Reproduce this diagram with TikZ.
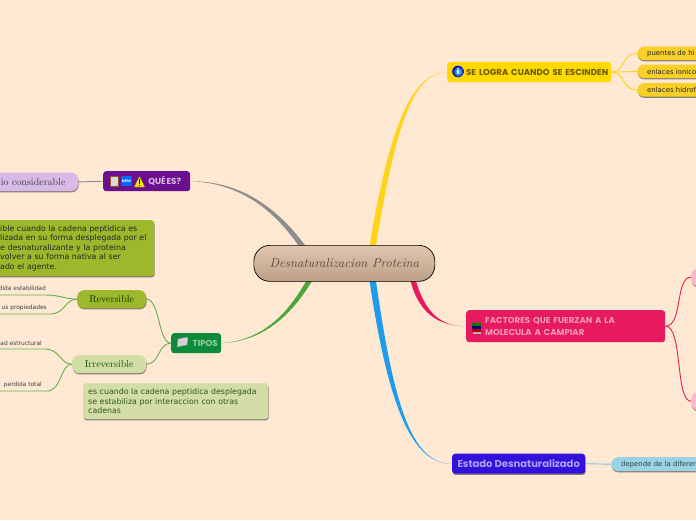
\documentclass[tikz,border=0pt]{standalone}
\usepackage{fontspec}
\usetikzlibrary{shadows}
\newfontfamily\vd{DejaVu Sans}
\newfontfamily\disp{Poppins}[Scale=1.0]
\definecolor{bgc}{HTML}{FEE8D1}
\definecolor{bgl}{HTML}{FFEEDB}
\definecolor{cgray}{HTML}{8E8E8E}
\definecolor{cyel}{HTML}{FFD319}
\definecolor{cpink}{HTML}{E81A5E}
\definecolor{cblue}{HTML}{1E9BEB}
\definecolor{cgreen}{HTML}{4CA63C}
\definecolor{lgreen}{HTML}{63B04E}
\definecolor{purp}{HTML}{6A0F8E}
\definecolor{purl}{HTML}{D9B9E8}
\definecolor{olive}{HTML}{9DB82B}
\definecolor{pale}{HTML}{D3DDA6}
\definecolor{dgreen}{HTML}{0E8B3A}
\definecolor{gold}{HTML}{FFD900}
\definecolor{gold2}{HTML}{F9CF28}
\definecolor{rose}{HTML}{E71A5F}
\definecolor{rosel}{HTML}{FDB9D0}
\definecolor{indi}{HTML}{3311DD}
\definecolor{skyb}{HTML}{9AD4E4}
\definecolor{ttop}{HTML}{E0C7B0}
\definecolor{tbot}{HTML}{BE9F87}
\definecolor{ttxt}{HTML}{54463A}
\definecolor{oltx}{HTML}{6B5A00}
\definecolor{cadt}{HTML}{2F5A22}
\tikzset{
  x=1pt,y=-1pt,
  shad/.style={drop shadow={shadow xshift=0.4pt,shadow yshift=-1.2pt,opacity=.45,fill=black}},
  box/.style={inner sep=0pt,rounded corners=3pt,anchor=north west},
  main/.style={box,font=\disp\bfseries\fontsize{8.6}{12}\selectfont,align=left},
  pill/.style={box,rounded corners=7pt,shad},
  txtpill/.style={pill,font=\vd\fontsize{6.9}{9}\selectfont,align=left},
  small/.style={inner sep=0pt,anchor=east,font=\vd\fontsize{5.9}{7}\selectfont,text=black!75},
  para/.style={box,shad,font=\vd\fontsize{7.85}{9.5}\selectfont,align=left},
  thin/.style={line width=.9pt},
}
\begin{document}
\begin{tikzpicture}
\useasboundingbox (0,0) rectangle (696,520);
\clip (0,0) rectangle (696,520);
\fill[bgc] (0,0) rectangle (696,520);
\foreach \k in {0,...,51} {\draw[bgl,line width=.8pt] (0,9.5+10*\k) -- (696,9.5+10*\k);}
% nodes
\node[main,fill=purp,text=purl,minimum width=87,minimum height=20,align=center] (que) at (103,171) {\hspace{36pt}QUÉ\hspace{-1pt} ES?};
\node[pill,fill=purl,minimum width=98,minimum height=18.5,font=\fontsize{10}{12}\selectfont,text=black!75] (cons) at (-20,172.5) {\hspace{8pt}io considerable};
\node[para,fill=olive,minimum width=174,minimum height=56,text=black!85,text width=174] (verde) at (-20,220) {\hspace*{20pt}ible cuando la cadena peptidica es\\\hspace*{20pt}lizada en su forma desplegada por el\\\hspace*{20pt}e desnaturalizante y la proteina\\\hspace*{20pt}volver a su forma nativa al ser\\\hspace*{20pt}ado el agente.};
\node[pill,fill=olive,minimum width=69,minimum height=18,font=\fontsize{10}{12}\selectfont,text=black!80!green] (rev) at (77,290) {Reversible};
\node[pill,fill=pale,minimum width=74,minimum height=18,font=\fontsize{10}{12}\selectfont,text=black!65!green] (irr) at (72,355) {Irreversible};
\node[main,fill=dgreen,text=white!55!dgreen,minimum width=50,minimum height=20,align=center] (tipos) at (171,333) {\hspace{18pt}TIPOS};
\node[para,fill=pale,minimum width=185,minimum height=36,text=cadt,text width=185] (cad) at (83,383) {\hspace*{5pt}es cuando la cadena peptidica desplegada\\\hspace*{5pt}se estabiliza por interaccion con otras\\\hspace*{5pt}cadenas};
\node[main,fill=gold,text=oltx,minimum width=164,minimum height=20,text width=164] (logro) at (447,62) {\hspace*{19pt}SE LOGRA CUANDO SE ESCINDEN};
\node[txtpill,fill=gold2,minimum width=90,minimum height=13.5,text=black!85,text width=90] (p1) at (637,46.5) {\hspace*{10pt}puentes de hi};
\node[txtpill,fill=gold2,minimum width=90,minimum height=13.5,text=black!85,text width=90] (p2) at (637,64.5) {\hspace*{10pt}enlaces ionico};
\node[txtpill,fill=gold2,minimum width=90,minimum height=13.5,text=black!85,text width=90] (p3) at (637,83) {\hspace*{10pt}enlaces hidrof};
\node[main,fill=rose,text=white!55!rose,minimum width=199,minimum height=32,text width=199] (fact) at (466,310) {\hspace*{19pt}FACTORES QUE FUERZAN A LA\\\hspace*{19pt}MOLECULA A CAMPIAR};
\node[pill,fill=rosel,minimum width=30,minimum height=18] (r1) at (691,268) {};
\node[pill,fill=rosel,minimum width=30,minimum height=18] (r2) at (691,392) {};
\node[main,fill=indi,text=white!60!indi,minimum width=133,minimum height=20,align=center,shad,font=\disp\bfseries\fontsize{10}{12}\selectfont] (estado) at (452,453.5) {Estado Desnaturalizado};
\node[txtpill,fill=skyb,minimum width=100,minimum height=14,text=black!70!skyb,text width=100] (dep) at (611,457) {\hspace*{10pt}depende de la diferen};
% small texts
\node[small] (s1) at (46,288.5) {dida estabilidad};
\node[small] (s2) at (47,308) {us propiedades};
\node[small] (s3) at (42,343) {ad estructural};
\node[small] (s4) at (42,385) {perdida total};
\coordinate (u1) at (0,295);
\coordinate (u2) at (0,314);
\coordinate (u3) at (0,349);
\coordinate (u4) at (0,391);
% thin connectors
\draw[cgray,thin] (cons.east) -- (que.west);
\draw[lgreen,thin] (tipos.west) .. controls (158,343) and (160,299) .. (rev.east);
\draw[lgreen,thin] (tipos.west) .. controls (158,343) and (160,364) .. (irr.east);
\draw[lgreen,thin] (rev.west) .. controls (65,299) and (60,295) .. (45,295) -- (u1);
\draw[lgreen,thin] (rev.west) .. controls (65,299) and (65,314) .. (50,314) -- (u2);
\draw[lgreen,thin] (irr.west) .. controls (60,364) and (60,349) .. (45,349) -- (u3);
\draw[lgreen,thin] (irr.west) .. controls (60,364) and (62,391) .. (47,391) -- (u4);
\draw[cyel,thin] (logro.east) .. controls (625,72) and (622,53) .. (p1.west);
\draw[cyel,thin] (logro.east) -- (p2.west);
\draw[cyel,thin] (logro.east) .. controls (625,72) and (622,90) .. (p3.west);
\draw[cpink,thin] (fact.east) .. controls (683,326) and (675,277) .. (r1.west);
\draw[cpink,thin] (fact.east) .. controls (683,326) and (675,401) .. (r2.west);
\draw[cblue!60!white,thin] (estado.east) -- (dep.west);
% thick tapered branches
\coordinate (cg) at (305,250);
\coordinate (cy) at (372,250);
\coordinate (cp) at (412,276);
\coordinate (cb) at (372,276);
\coordinate (cv) at (312,276);
\fill[cgray] (que.east) .. controls (240,183) and (275,210) .. ([xshift=-3.5]cg) -- ([xshift=3.5]cg) .. controls (278,207) and (240,181) .. (que.east);
\fill[cyel] (logro.west) .. controls (415,74) and (397,115) .. ([xshift=3.2]cy) -- ([xshift=-3.2]cy) .. controls (391,115) and (415,73) .. (logro.west);
\fill[cpink] (fact.west) .. controls (440,326.5) and (424,312) .. ([xshift=2.6]cp) -- ([xshift=-2.6]cp) .. controls (417,312) and (437,326) .. (fact.west);
\fill[cblue] (estado.west) .. controls (410,464) and (393,400) .. ([xshift=3.2]cb) -- ([xshift=-3.2]cb) .. controls (387,400) and (410,464.5) .. (estado.west);
\fill[cgreen] (tipos.east) .. controls (265,341) and (293,314) .. ([xshift=3]cv) -- ([xshift=-3]cv) .. controls (290,311) and (265,340) .. (tipos.east);
% title
\node[inner sep=0pt,rounded corners=16pt,draw=black,line width=.7pt,top color=ttop,bottom color=tbot,minimum width=181,minimum height=36,anchor=north west,font=\fontsize{12.9}{16}\selectfont\itshape,text=ttxt] (title) at (253.5,245) {Desnaturalizacion Proteina};
% icons
\fill[white!85!black,draw=brown!70!black,line width=.4pt] (110,176) rectangle (118,186);
\fill[blue!60!cyan] (121,176) rectangle (132,186);
\node[inner sep=0pt,font=\vd\bfseries\fontsize{3.5}{4}\selectfont,text=white] (newb) at (126.5,181) {NEW};
\fill[yellow!90!orange,draw=brown!60!black,line width=.3pt] (134,187) -- (139.5,176) -- (145,187) -- cycle;
\fill[black] (139,179) rectangle (140,184);
\fill[black] (139,185) rectangle (140,186);
\fill[white!65!gray,draw=gray,line width=.3pt] (177,347) -- (178,339) -- (187,337) -- (188,339) -- (187,345) -- cycle;
\shade[inner color=cyan!60!white,outer color=blue!70!black] (458,71.5) circle (5.8);
\node[inner sep=0pt,font=\vd\bfseries\fontsize{8}{8}\selectfont,text=white] (infoi) at (458,71.5) {i};
\fill[green!50!black] (472,323) rectangle (481,326);
\fill[blue!50!black] (472,326) rectangle (481,329);
\fill[red!70!black] (472,329) rectangle (481,332);
\fill[gray!60] (473,332) rectangle (481,334);
\end{tikzpicture}
\end{document}
